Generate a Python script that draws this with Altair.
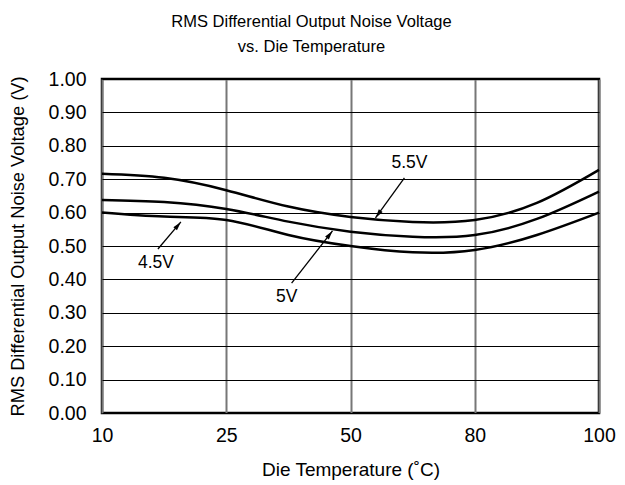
import altair as alt
import pandas as pd

# x positions are equally spaced categories
temp_labels = ["10", "25", "50", "80", "100"]
x_pos = [0, 0.5, 1, 1.5, 2, 2.5, 3, 3.5, 4]

v55 = [0.716, 0.704, 0.667, 0.618, 0.587, 0.572, 0.578, 0.629, 0.728]
v50 = [0.638, 0.632, 0.611, 0.573, 0.543, 0.528, 0.533, 0.581, 0.663]
v45 = [0.600, 0.588, 0.578, 0.533, 0.500, 0.481, 0.488, 0.533, 0.600]

y_ticks = [0.0, 0.1, 0.2, 0.3, 0.4, 0.5, 0.6, 0.7, 0.8, 0.9, 1.0]

series_names = ["5.5V", "5V", "4.5V"]

# annotations (data units: x index, voltage)
ann_label = ["5.5V", "4.5V", "5V"]
ann_tx = [2.474, 0.434, 1.486]
ann_ty = [0.749, 0.449, 0.347]
arr_x1 = [2.434, 0.450, 1.526]
arr_y1 = [0.704, 0.491, 0.389]
arr_x2 = [2.201, 0.635, 1.855]
arr_y2 = [0.584, 0.572, 0.545]
arr_angle = [216, 40, 38]

rows = []
for name, vals in zip(series_names, [v55, v50, v45]):
    for x, v in zip(x_pos, vals):
        rows.append({"series": name, "x": x, "v": v})
df = pd.DataFrame(rows)

ann = pd.DataFrame({
    "label": ann_label, "tx": ann_tx, "ty": ann_ty,
    "x1": arr_x1, "y1": arr_y1, "x2": arr_x2, "y2": arr_y2, "angle": arr_angle,
})

FONT = "Liberation Sans"

label_expr = "[" + ",".join(f"'{t}'" for t in temp_labels) + "][datum.value]"

xscale = alt.Scale(domain=[0, 4], nice=False)
yscale = alt.Scale(domain=[0, 1], nice=False)

x_axis = alt.Axis(values=[0, 1, 2, 3, 4], labelExpr=label_expr,
                  title="Die Temperature (˚C)", grid=True,
                  gridColor="#777777", gridWidth=2,
                  domain=False, ticks=False, labelPadding=13,
                  labelFontSize=19.5, titleFontSize=19,
                  labelOverlap=False, labelFlush=False,
                  titlePadding=16, labelFont=FONT, titleFont=FONT,
                  labelColor="black", titleColor="black",
                  titleFontWeight="normal")
y_axis = alt.Axis(values=y_ticks, format=".2f",
                  title="RMS Differential Output Noise Voltage (V)",
                  grid=True, gridColor="black", gridWidth=1,
                  domain=False, ticks=False, labelPadding=16,
                  labelFontSize=19.5, titleFontSize=18.3,
                  labelOverlap=False, labelFlush=False,
                  titlePadding=21, labelFont=FONT, titleFont=FONT,
                  labelColor="black", titleColor="black",
                  titleFontWeight="normal")


def X(field):
    return alt.X(field, scale=xscale, axis=x_axis)


def Y(field):
    return alt.Y(field, scale=yscale, axis=y_axis)


lines = alt.Chart(df).mark_line(color="black", strokeWidth=2.5,
                                interpolate="natural").encode(
    x=X("x:Q"), y=Y("v:Q"), detail="series:N")

rules = alt.Chart(ann).mark_rule(color="black", strokeWidth=1.3).encode(
    x=X("x1:Q"), y=Y("y1:Q"), x2="x2:Q", y2="y2:Q")

heads = alt.Chart(ann).mark_point(
    shape="M0,0L-0.45,1.7L0.45,1.7Z", filled=True, color="black",
    opacity=1, size=110).encode(
    x=X("x2:Q"), y=Y("y2:Q"),
    angle=alt.Angle("angle:Q", scale=None))

texts = alt.Chart(ann).mark_text(font=FONT, fontSize=17.5, color="black").encode(
    x=X("tx:Q"), y=Y("ty:Q"), text="label:N")

chart = alt.layer(lines, rules, heads, texts).properties(
    width=497, height=334,
    autosize=alt.AutoSizeParams(type="none"),
    padding={"left": 94, "top": 71, "right": 18, "bottom": 68},
    background="white",
    title=alt.TitleParams(
        ["RMS Differential Output Noise Voltage", "vs. Die Temperature"],
        font=FONT, fontSize=16.5, fontWeight="normal", color="black",
        anchor="middle", dx=-39, offset=14, lineHeight=25),
).configure_view(stroke="black", strokeWidth=2.5)

chart.save("out.html", embed_options={"renderer": "svg", "actions": False})
